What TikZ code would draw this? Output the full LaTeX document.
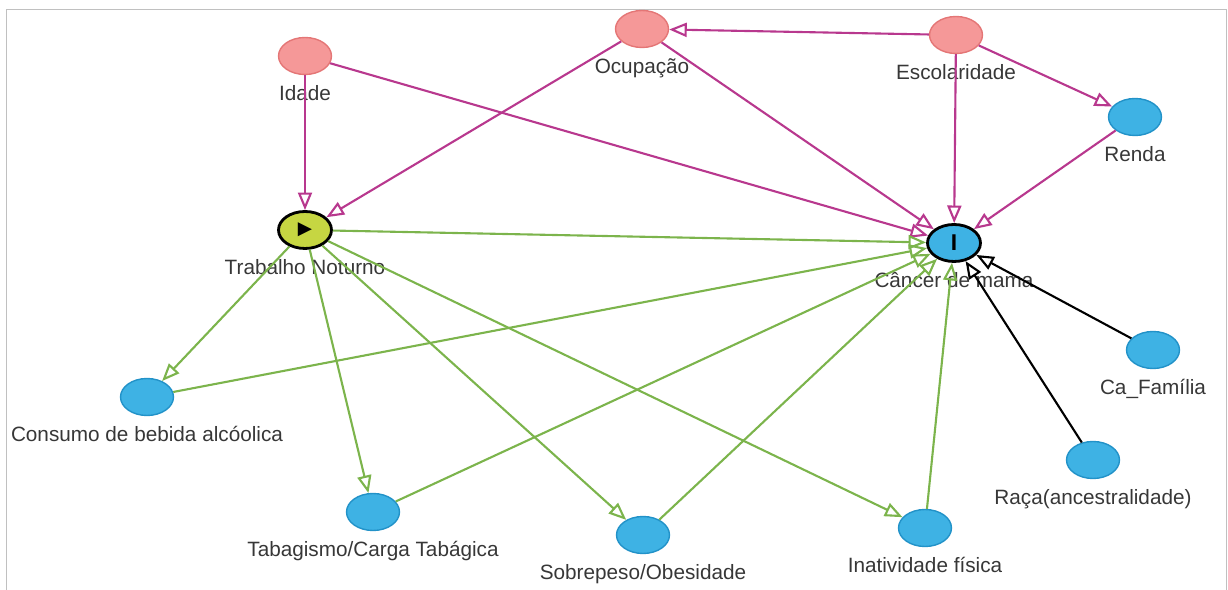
\documentclass[tikz,border=0pt]{standalone}
\usepackage{fontspec}
\setmainfont{Liberation Sans}
\newfontfamily\symfont{DejaVu Sans}
\usetikzlibrary{shapes.geometric,arrows.meta}

\definecolor{rosa}{RGB}{245,152,152}
\definecolor{rosaborda}{RGB}{228,118,118}
\definecolor{azul}{RGB}{62,178,228}
\definecolor{azulborda}{RGB}{34,146,200}
\definecolor{amarelo}{RGB}{198,214,66}
\definecolor{roxo}{RGB}{184,56,142}
\definecolor{verdeseta}{RGB}{124,180,76}
\definecolor{cinzatexto}{RGB}{55,55,55}
\definecolor{moldura}{RGB}{192,192,192}

\begin{document}
\begin{tikzpicture}[x=0.02cm,y=-0.02cm,
		var/.style={ellipse,draw,line width=0.8pt,minimum width=1.06cm,minimum height=0.74cm,inner sep=0pt},
		conf/.style={var,fill=rosa,draw=rosaborda},
		outra/.style={var,fill=azul,draw=azulborda},
		rot/.style={text=cinzatexto,font=\fontsize{11.8}{13}\selectfont,text height=8.5pt,text depth=2.5pt,inner sep=0pt,yshift=-5.5pt},
		seta/.style={line width=1.2pt,-{Triangle[open,length=10pt,width=8pt]}},
		roxa/.style={seta,draw=roxo},
		verde/.style={seta,draw=verdeseta},
		preta/.style={seta,draw=black}]
		\useasboundingbox (0,0) rectangle (1228,590);
		\draw[moldura,line width=0.8pt] (6.5,590) -- (6.5,9.5) -- (1226.5,9.5) -- (1226.5,590);

		% fatores de confusao
		\node[conf,label={[rot]below:Idade}] (idade) at (305,56) {};
		\node[conf,label={[rot]below:Ocupação}] (ocup) at (642,29) {};
		\node[conf,label={[rot]below:Escolaridade}] (escol) at (956,35) {};

		% exposicao e desfecho
		\node[var,fill=amarelo,draw=black,line width=1.6pt,label={[rot]below:Trabalho Noturno}] (trab) at (305,230) {\fontsize{10.5}{10.5}\symfont ▶};
		\node[var,fill=azul,draw=black,line width=1.6pt,label={[rot]below:Câncer de mama}] (cancer) at (954,243) {\fontsize{13}{13}\bfseries I};

		% demais variaveis
		\node[outra,label={[rot]below:Renda}] (renda) at (1135,117) {};
		\node[outra,label={[rot]below:Consumo de bebida alcóolica}] (alcool) at (147,397) {};
		\node[outra,label={[rot]below:Tabagismo/Carga Tabágica}] (tabaco) at (373,512) {};
		\node[outra,label={[rot]below:Sobrepeso/Obesidade}] (peso) at (643,535) {};
		\node[outra,label={[rot]below:Inatividade física}] (inativ) at (925,528) {};
		\node[outra,label={[rot]below:Ca\_Família}] (familia) at (1153,350) {};
		\node[outra,label={[rot]below:Raça(ancestralidade)}] (raca) at (1093,460) {};

		\draw[roxa] (idade) -- (trab);
		\draw[roxa] (idade) -- (cancer);
		\draw[roxa] (ocup) -- (trab);
		\draw[roxa] (ocup) -- (cancer);
		\draw[roxa] (escol) -- (ocup);
		\draw[roxa] (escol) -- (cancer);
		\draw[roxa] (escol) -- (renda);
		\draw[roxa] (renda) -- (cancer);

		\draw[verde] (trab) -- (cancer);
		\draw[verde] (trab) -- (alcool);
		\draw[verde] (trab) -- (tabaco);
		\draw[verde] (trab) -- (peso);
		\draw[verde] (trab) -- (inativ);
		\draw[verde] (alcool) -- (cancer);
		\draw[verde] (tabaco) -- (cancer);
		\draw[verde] (peso) -- (cancer);
		\draw[verde] (inativ) -- (cancer);

		\draw[preta] (familia) -- (cancer);
		\draw[preta] (raca) -- (cancer);
\end{tikzpicture}
\end{document}
